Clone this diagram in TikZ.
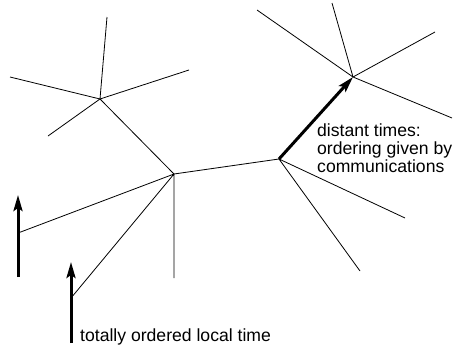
\documentclass[tikz,border=0pt]{standalone}
\usepackage{fontspec}
\setmainfont{Liberation Sans}
\usetikzlibrary{arrows.meta}
\begin{document}
\begin{tikzpicture}[x=1pt,y=-1pt,
  thin line/.style={line width=0.8pt},
  time arrow/.style={line width=3pt,-{Stealth[length=16pt,width=9pt,inset=3pt]}},
  lbl/.style={inner sep=0pt,anchor=base west,font=\fontsize{17.6}{18}\selectfont}]
\useasboundingbox (0,0) rectangle (454,348);
% hubs
\coordinate (A) at (100,99);
\coordinate (C) at (174,174);
\coordinate (E) at (279,159);
\coordinate (D) at (353,77);
% leaves
\coordinate (a1) at (107,17);
\coordinate (a2) at (10,77);
\coordinate (a3) at (189,70);
\coordinate (a4) at (48,136);
\coordinate (c1) at (174,278);
\coordinate (e1) at (360,271);
\coordinate (e2) at (405,218);
\coordinate (d1) at (257,10);
\coordinate (d2) at (332,3);
\coordinate (d3) at (435,32);
\coordinate (d4) at (452,118);
% local time arrows
\coordinate (p1s) at (18,277);
\coordinate (p1m) at (18,233);
\coordinate (p1t) at (18,195);
\coordinate (p2s) at (71,343);
\coordinate (p2m) at (71,298);
\coordinate (p2t) at (71,262);
% edges
\draw[thin line] (A) -- (a1) (A) -- (a2) (A) -- (a3) (A) -- (a4) (A) -- (C);
\draw[thin line] (C) -- (E) (C) -- (c1) (C) -- (p1m) (C) -- (p2m);
\draw[thin line] (E) -- (e1) (E) -- (e2);
\draw[thin line] (D) -- (d1) (D) -- (d2) (D) -- (d3) (D) -- (d4);
% thick arrows
\draw[time arrow] (p1s) -- (p1t);
\draw[time arrow] (p2s) -- (p2t);
\draw[time arrow] (E) -- (D);
% labels
\node[lbl] (t1) at (317,136) {distant times:};
\node[lbl] (t2) at (317,154) {ordering given by};
\node[lbl] (t3) at (317,172) {communications};
\node[lbl] (t4) at (80,341) {totally ordered local time};
\end{tikzpicture}
\end{document}
